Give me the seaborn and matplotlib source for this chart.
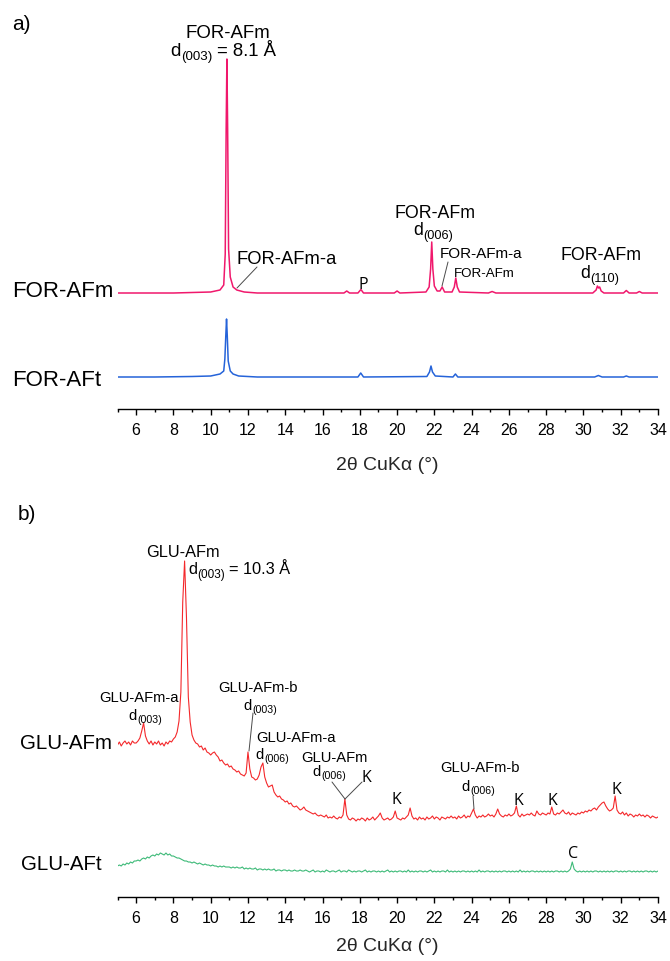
import numpy as np
import pandas as pd
import matplotlib
matplotlib.use("Agg")
import matplotlib.pyplot as plt
from matplotlib.lines import Line2D
from matplotlib.ticker import MultipleLocator
import seaborn as sns

# ---------------- data ----------------
# a) formate AFm / AFt diffractograms (2theta in degrees, intensity in a.u.)
for_afm_2theta = [5.0, 6.0, 7.0, 8.0, 9.0, 10.0, 10.5, 10.7, 10.78, 10.83, 10.87, 10.91,
                  10.96, 11.05, 11.2, 11.4, 11.8, 12.5, 14.0, 16.0, 17.15, 17.3, 17.45,
                  17.9, 18.06, 18.2, 19.85, 20.0, 20.15, 21.55, 21.72, 21.8, 21.86, 21.92,
                  22.0, 22.15, 22.3, 22.42, 22.55, 22.95, 23.07, 23.15, 23.23, 23.35, 24.9,
                  25.1, 25.3, 30.5, 30.68, 30.75, 30.81, 30.87, 30.95, 31.1, 32.15, 32.3,
                  32.45, 32.85, 33.0, 33.15, 34.0]
for_afm_counts = [6, 6, 6, 6, 6.5, 7, 9, 14, 45, 170, 240, 170,
                  50, 22, 12, 9, 7, 6, 6, 6, 6, 8, 6,
                  6, 9.5, 6, 6, 8, 6, 7, 12, 30, 57, 30,
                  13, 8, 8, 12, 7, 7, 12, 21, 12, 7, 6,
                  7.5, 6, 6, 9, 13, 11, 12, 8, 6, 6, 8.5,
                  6, 6, 7.5, 6, 6]

for_aft_2theta = [5.0, 7.0, 9.0, 10.0, 10.5, 10.7, 10.76, 10.81, 10.85, 10.89, 10.94,
                  11.05, 11.2, 11.5, 12.5, 15.0, 17.9, 18.05, 18.2, 21.6, 21.74, 21.82,
                  21.9, 22.05, 23.0, 23.13, 23.26, 30.6, 30.8, 31.0, 32.15, 32.3, 32.45,
                  34.0]
for_aft_counts = [4, 4, 4.5, 5, 7, 10, 22, 45, 62, 45, 20,
                  10, 7, 5, 4, 4, 4, 8, 4, 4.5, 9, 15,
                  9, 5, 4, 7, 4, 4, 5.5, 4, 4, 5, 4,
                  4]

# b) gluconate AFm / AFt diffractograms, recorded on a 0.1 degree grid
glu_2theta = np.round(np.arange(5.0, 34.05, 0.1), 1)
glu_afm_counts = [
    82, 85, 81, 84, 86, 83, 85, 82, 86, 84,      # 5
    84, 86, 89, 96, 104, 91, 86, 83, 86, 82,     # 6
    85, 83, 86, 82, 84, 81, 85, 83, 86, 85,      # 7
    88, 90, 95, 106, 135, 225, 266, 210, 130, 105,  # 8
    92, 87, 84, 83, 80, 81, 77, 79, 75, 74,      # 9
    72, 74, 75, 72, 70, 66, 67, 64, 62, 63,      # 10
    60, 61, 58, 57, 55, 56, 53, 52, 51, 54,      # 11
    75, 58, 50, 49, 47, 48, 52, 60, 64, 50,      # 12
    44, 40, 41, 42, 35, 32, 30, 31, 28, 27,      # 13
    25, 26, 23, 24, 21, 20, 21, 19, 17, 18,      # 14
    20, 17, 16, 15, 14, 13, 14, 12, 11, 12,      # 15
    11, 10, 12, 9, 10, 9, 11, 9, 8, 10,          # 16
    9, 12, 28, 12, 8, 7, 9, 8, 6, 8,             # 17
    7, 9, 8, 6, 9, 7, 8, 10, 7, 9,               # 18
    11, 14, 9, 7, 8, 9, 7, 8, 10, 16,            # 19
    9, 8, 7, 9, 8, 10, 12, 19, 11, 8,            # 20
    9, 7, 10, 8, 9, 7, 10, 8, 9, 11,             # 21
    8, 10, 9, 7, 10, 9, 8, 10, 9, 11,            # 22
    9, 10, 8, 11, 9, 10, 12, 9, 11, 10,          # 23
    14, 18, 12, 9, 11, 10, 12, 10, 11, 13,       # 24
    11, 12, 10, 13, 18, 13, 11, 10, 12, 11,      # 25
    13, 11, 12, 14, 21, 12, 10, 13, 11, 12,      # 26
    13, 12, 14, 12, 11, 16, 13, 12, 14, 13,      # 27
    12, 14, 13, 20, 13, 12, 14, 13, 15, 17,      # 28
    14, 13, 15, 12, 14, 13, 12, 14, 13, 15,      # 29
    14, 16, 15, 17, 16, 18, 19, 17, 20, 22,      # 30
    24, 25, 21, 18, 16, 17, 19, 31, 17, 14,      # 31
    13, 15, 12, 14, 11, 13, 12, 10, 12, 11,      # 32
    13, 11, 12, 10, 12, 11, 9, 11, 10, 9,        # 33
    10,                                          # 34
]
glu_aft_counts = [
    11, 12, 11, 13, 12, 14, 13, 15, 14, 16,      # 5
    16, 17, 16, 18, 19, 18, 20, 19, 21, 22,      # 6
    21, 23, 22, 24, 23, 22, 24, 22, 23, 21,      # 7
    21, 20, 19, 19, 18, 17, 16, 16, 15, 15,      # 8
    14, 15, 14, 13, 14, 13, 12, 13, 12, 12,      # 9
    11, 12, 11, 11, 10, 11, 10, 11, 10, 10,      # 10
    10, 9, 10, 9, 10, 9, 9, 10, 8, 9,            # 11
    8, 9, 8, 8, 9, 7, 8, 8, 7, 8,                # 12
    7, 8, 7, 7, 8, 6, 7, 7, 6, 7,                # 13
    7, 6, 7, 6, 6, 7, 6, 6, 7, 6,                # 14
    6, 7, 6, 5, 6, 7, 5, 6, 6, 5,                # 15
    6, 5, 7, 6, 5, 6, 6, 5, 6, 7,                # 16
    5, 6, 6, 5, 7, 6, 5, 6, 5, 6,                # 17
    6, 5, 6, 7, 5, 6, 5, 6, 6, 5,                # 18
    6, 5, 6, 5, 6, 7, 5, 6, 5, 6,                # 19
    5, 6, 6, 5, 6, 5, 7, 5, 6, 5,                # 20
    6, 5, 6, 6, 5, 6, 5, 6, 7, 5,                # 21
    6, 5, 6, 5, 6, 6, 5, 7, 5, 6,                # 22
    5, 6, 5, 6, 5, 6, 6, 5, 6, 5,                # 23
    6, 5, 6, 5, 7, 5, 6, 5, 6, 6,                # 24
    5, 6, 5, 6, 5, 6, 5, 6, 6, 5,                # 25
    6, 5, 6, 5, 6, 5, 7, 5, 6, 5,                # 26
    6, 5, 6, 6, 5, 6, 5, 6, 5, 6,                # 27
    5, 6, 5, 6, 5, 6, 6, 5, 6, 5,                # 28
    6, 5, 6, 8, 15, 8, 6, 5, 6, 5,               # 29
    6, 5, 6, 5, 6, 5, 6, 6, 5, 6,                # 30
    5, 6, 5, 6, 5, 6, 5, 6, 6, 5,                # 31
    6, 5, 6, 5, 6, 6, 5, 6, 5, 6,                # 32
    5, 6, 5, 6, 6, 5, 6, 5, 6, 5,                # 33
    6,                                           # 34
]

x_ticks = list(range(6, 35, 2))
x_label = "2θ CuKα (°)"

# vertical stacking of the patterns
stack_offset = {"FOR-AFm": 110, "FOR-AFt": 28, "GLU-AFm": 70, "GLU-AFt": 20}
trace_color = {"FOR-AFm": "#f0186c", "FOR-AFt": "#2563d9",
               "GLU-AFm": "#f4282b", "GLU-AFt": "#3dba78"}

# ---------------- style ----------------
sns.set_theme(style="ticks")
plt.rcParams.update({
    "font.family": ["Liberation Sans", "DejaVu Sans"],
    "axes.linewidth": 1.0,
    "xtick.major.width": 1.0,
    "xtick.minor.width": 1.0,
    "xtick.color": "black",
    "axes.edgecolor": "black",
})

W, H = 670, 962
fig = plt.figure(figsize=(W / 100, H / 100), dpi=100)
fig.patch.set_facecolor("white")
renderer = fig.canvas.get_renderer()


def at(x, y):
    """Pixel position on the page -> figure fraction."""
    return x / W, 1 - y / H


def label(x, y, s, size, ha="center", family=None):
    kw = {}
    if family:
        kw["family"] = family
    return fig.text(*at(x, y), s, ha=ha, va="baseline", fontsize=size, color="black", **kw)


def text_width(s, size):
    t = fig.text(0, 0, s, fontsize=size)
    w = t.get_window_extent(renderer).width
    t.remove()
    return w


def dlabel(x, y, plane, size, rest="", ha="center"):
    """'d' with a subscripted (hkl) and an optional trailing '= value'."""
    em = size * 100 / 72
    sub_size = size * 0.72
    pieces = [("d", size, 0.0, 0.0),
              (plane, sub_size, 0.22 * em, 0.02 * em)]
    if rest:
        pieces.append((rest, size, 0.0, 0.25 * em))
    widths = [text_width(s, fs) for s, fs, _, _ in pieces]
    total = sum(widths) + sum(p[3] for p in pieces)
    cx = x - total / 2 if ha == "center" else x
    for (s, fs, dy, gap), w in zip(pieces, widths):
        cx += gap
        fig.text(*at(cx, y + dy), s, ha="left", va="baseline", fontsize=fs, color="black")
        cx += w


def leader(x1, y1, x2, y2):
    fig.add_artist(Line2D([x1 / W, x2 / W], [1 - y1 / H, 1 - y2 / H],
                          transform=fig.transFigure, color="#4a4a4a", lw=0.7))


def stacked(frames):
    df = pd.concat(frames, ignore_index=True)
    df["shifted"] = df["counts"] + df["sample"].map(stack_offset)
    return df


df_a = stacked([
    pd.DataFrame({"two_theta": for_afm_2theta, "counts": for_afm_counts, "sample": "FOR-AFm"}),
    pd.DataFrame({"two_theta": for_aft_2theta, "counts": for_aft_counts, "sample": "FOR-AFt"}),
])
df_b = stacked([
    pd.DataFrame({"two_theta": glu_2theta, "counts": glu_afm_counts, "sample": "GLU-AFm"}),
    pd.DataFrame({"two_theta": glu_2theta, "counts": glu_aft_counts, "sample": "GLU-AFt"}),
])

ax_a = fig.add_axes([117.5 / W, 1 - 410 / H, (658 - 117.5) / W, 355 / H])
ax_b = fig.add_axes([117.5 / W, 1 - 898 / H, (658 - 117.5) / W, 343 / H])

sns.lineplot(data=df_a, x="two_theta", y="shifted", hue="sample", palette=trace_color,
             estimator=None, sort=False, legend=False, lw=1.1, ax=ax_a)
sns.lineplot(data=df_b, x="two_theta", y="shifted", hue="sample", palette=trace_color,
             estimator=None, sort=False, legend=False, lw=0.8, ax=ax_b)

for ax, ytop, lpad in ((ax_a, 355, 14), (ax_b, 343, 8.5)):
    ax.set_xlim(5, 34)
    ax.set_ylim(0, ytop)
    ax.set_facecolor("none")
    for side in ("left", "top", "right"):
        ax.spines[side].set_visible(False)
    ax.set_yticks([])
    ax.set_ylabel("")
    ax.set_xticks(x_ticks)
    ax.xaxis.set_minor_locator(MultipleLocator(1))
    ax.tick_params(axis="x", which="major", length=4.3, width=1.0, direction="out",
                   labelsize=11.5, pad=5)
    ax.tick_params(axis="x", which="minor", length=2.4, width=1.0, direction="out")
    ax.set_xlabel(x_label, fontsize=14, labelpad=lpad)

# ---------------- annotations: panel a ----------------
label(12, 30, "a)", 15, ha="left")
label(12, 297, "FOR-AFm", 16, ha="left")
label(12, 386, "FOR-AFt", 16, ha="left")

label(227.5, 37.5, "FOR-AFm", 13.4)
dlabel(223.5, 56, "(003)", 13.4, rest="= 8.1 Å")
label(237, 264, "FOR-AFm-a", 13.2, ha="left")
leader(257, 268, 237, 289)
label(363, 289, "P", 11.5, family=["Open Sans", "DejaVu Sans"])
label(435, 217.5, "FOR-AFm", 12.8)
dlabel(433, 235, "(006)", 12.8)
label(440, 258, "FOR-AFm-a", 11, ha="left")
leader(448, 263, 442, 287)
label(454, 277, "FOR-AFm", 9.6, ha="left")
label(601, 260.5, "FOR-AFm", 12.8)
dlabel(600, 278, "(110)", 12.8)

# ---------------- annotations: panel b ----------------
label(18, 520, "b)", 15, ha="left")
label(20, 749, "GLU-AFm", 14.8, ha="left")
label(21, 870, "GLU-AFt", 14.8, ha="left")

label(183, 557, "GLU-AFm", 11.8)
dlabel(188, 574, "(003)", 11.8, rest="= 10.3 Å", ha="left")
label(139, 702, "GLU-AFm-a", 10.6)
dlabel(145.5, 720, "(003)", 10.6)
label(258, 692, "GLU-AFm-b", 10.6)
dlabel(260.5, 710, "(003)", 10.6)
leader(253, 714, 249, 752)
label(296, 742, "GLU-AFm-a", 10.6)
dlabel(272, 759, "(006)", 10.6)
label(301, 762, "GLU-AFm", 10.6, ha="left")
dlabel(329.5, 776, "(006)", 10.6)
leader(332, 783, 345, 800)
leader(362, 783, 345, 800)
label(480, 772, "GLU-AFm-b", 10.6)
dlabel(478, 791, "(006)", 10.6)
leader(473, 797, 474, 810)

kc_font = ["Open Sans", "DejaVu Sans"]
label(366, 782, "K", 11.5, family=kc_font)
label(396, 804, "K", 11.5, family=kc_font)
label(518, 805, "K", 11.5, family=kc_font)
label(552, 805, "K", 11.5, family=kc_font)
label(616, 794, "K", 11.5, family=kc_font)
label(573, 858, "C", 11.5, family=kc_font)

fig.savefig("out.png", dpi=100, facecolor="white")
